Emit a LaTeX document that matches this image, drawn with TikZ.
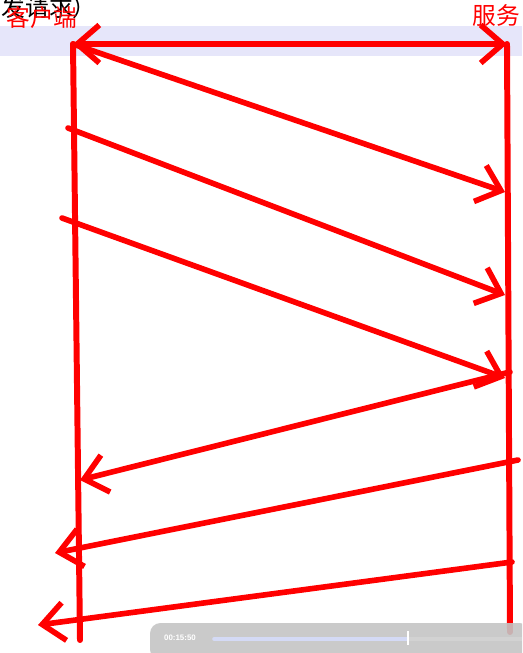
\documentclass[tikz,border=0pt]{standalone}
\usepackage{fontspec}
\newfontfamily\cjk{Noto Sans CJK SC}
\setsansfont{Liberation Sans}
\usetikzlibrary{arrows.meta, positioning}
\definecolor{pen}{RGB}{255,0,0}
\definecolor{band}{RGB}{230,230,250}
\definecolor{barbg}{RGB}{196,196,196}
\definecolor{barfill}{RGB}{212,218,245}

\begin{document}
\begin{tikzpicture}[x=0.02cm, y=-0.02cm,
        life/.style = {draw=pen, line width=3.4pt, line cap=round},
        msg/.style  = {pen, line width=3.2pt, line cap=round, line join=round,
                       -{Straight Barb[length=4.4mm, width=7.6mm, line width=3.2pt]}},
        both/.style = {msg, {Straight Barb[length=4.4mm, width=7.6mm, line width=3.2pt]}-{Straight Barb[length=4.4mm, width=7.6mm, line width=3.2pt]}},
        who/.style  = {text=pen, font=\cjk\fontsize{13.5}{13.5}\selectfont, inner sep=0pt},
        stamp/.style = {text=white, font=\sffamily\bfseries\fontsize{4.5}{5}\selectfont, inner sep=0pt}
    ]
        \useasboundingbox (0,0) rectangle (522,653);
        \clip (0,0) rectangle (522,653);

        % page behind the drawing
        \fill[band] (0,26) rectangle (522,56);
        \node[font=\cjk\fontsize{13.5}{13.5}\selectfont, anchor=east, inner sep=0pt] (note) at (97,7) {发请求）};

        % ends of the two life lines
        \coordinate (c0) at (73,44);
        \coordinate (c1) at (80,640);
        \coordinate (s0) at (507,44);
        \coordinate (s1) at (510,632);
        \draw[life] (c0) -- (c1);
        \draw[life] (s0) -- (s1);

        \node[who] (client) at (42,17) {客户端};
        \node[who] (server) at (496,15) {服务};

        % requests
        \coordinate (b1) at (505,192);
        \coordinate (a2) at (68,128);  \coordinate (b2) at (505,295);
        \coordinate (a3) at (62,218);  \coordinate (b3) at (505,378);
        \draw[both] (c0) -- (s0);
        \draw[msg] (c0) -- (b1);
        \draw[msg] (a2) -- (b2);
        \draw[msg] (a3) -- (b3);

        % replies
        \coordinate (r1) at (510,372); \coordinate (q1) at (80,480);
        \coordinate (r2) at (518,460); \coordinate (q2) at (55,553);
        \coordinate (r3) at (512,562); \coordinate (q3) at (38,625);
        \draw[msg] (r1) -- (q1);
        \draw[msg] (r2) -- (q2);
        \draw[msg] (r3) -- (q3);

        % player bar
        \fill[barbg, fill opacity=0.9, rounded corners=6pt] (150,660) -- (150,623) -- (530,623) -- (530,660) -- cycle;
        \node[stamp] (time) at (180,638) {00:15:50};
        \draw[barfill, line width=2pt, line cap=round] (214,639) -- (408,639);
        \draw[gray!35, line width=2pt] (408,639) -- (522,639);
        \draw[white, line width=1pt] (408,631) -- (408,645);
    \end{tikzpicture}
\end{document}
